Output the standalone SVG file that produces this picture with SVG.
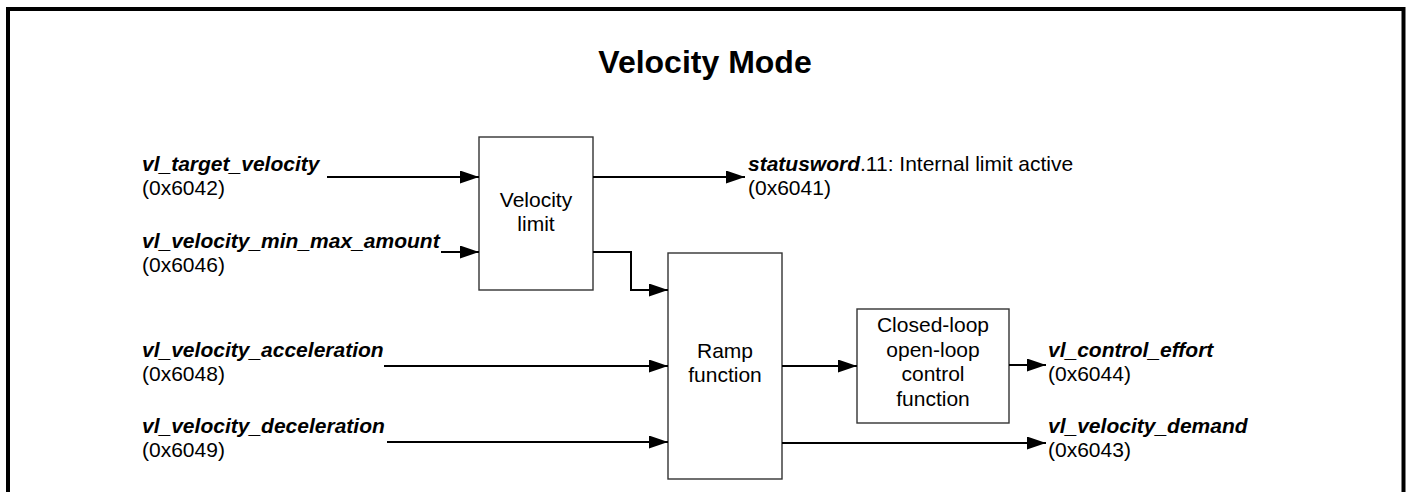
<svg xmlns="http://www.w3.org/2000/svg" width="1412" height="492" viewBox="0 0 1412 492">
<style>
text{font-family:"Liberation Sans",Arial,sans-serif;font-size:21px;fill:#000}
.t{font-size:32px;font-weight:bold}
.bi{font-weight:bold;font-style:italic}
.c{text-anchor:middle}
.box{fill:#fff;stroke:#333;stroke-width:1.4}
.ln{fill:none;stroke:#000;stroke-width:2}
</style>
<defs>
<marker id="ah" markerUnits="userSpaceOnUse" markerWidth="20" markerHeight="14" refX="19" refY="6.5" orient="auto">
<path d="M0,0 L19,6.5 L0,13 z" fill="#000"/>
</marker>
</defs>
<rect width="1412" height="492" fill="#fff"/>
<path d="M8,500 V9 H1403.5 V500" fill="none" stroke="#000" stroke-width="4"/>
<text class="t c" x="705" y="73">Velocity Mode</text>

<g id="in-target"><text class="bi" x="142" y="171">vl_target_velocity</text><text x="142" y="195">(0x6042)</text></g>
<g id="in-minmax"><text class="bi" x="142" y="248">vl_velocity_min_max_amount</text><text x="142" y="272">(0x6046)</text></g>
<g id="in-acc"><text class="bi" x="142" y="357">vl_velocity_acceleration</text><text x="142" y="381">(0x6048)</text></g>
<g id="in-dec"><text class="bi" x="142" y="433">vl_velocity_deceleration</text><text x="142" y="457">(0x6049)</text></g>

<g id="velocity-limit"><rect class="box" x="479" y="137" width="114" height="153"/><text class="c" x="536" y="207">Velocity</text><text class="c" x="536" y="231">limit</text></g>
<g id="ramp"><rect class="box" x="668" y="253" width="114" height="226"/><text class="c" x="725" y="358">Ramp</text><text class="c" x="725" y="382">function</text></g>
<g id="control"><rect class="box" x="857" y="309" width="152" height="114"/><text class="c" x="933" y="332">Closed-loop</text><text class="c" x="933" y="356.5">open-loop</text><text class="c" x="933" y="381">control</text><text class="c" x="933" y="405.5">function</text></g>

<g id="out-status"><text x="748" y="171"><tspan class="bi">statusword</tspan>.11: Internal limit active</text><text x="748" y="195">(0x6041)</text></g>
<g id="out-effort"><text class="bi" x="1048" y="357">vl_control_effort</text><text x="1048" y="381">(0x6044)</text></g>
<g id="out-demand"><text class="bi" x="1048" y="433">vl_velocity_demand</text><text x="1048" y="457">(0x6043)</text></g>

<g id="connectors">
<path class="ln" d="M327,177 H479" marker-end="url(#ah)"/>
<path class="ln" d="M441,252 H479" marker-end="url(#ah)"/>
<path class="ln" d="M593,177 H745" marker-end="url(#ah)"/>
<path class="ln" d="M593,252 H631 V290 H668" marker-end="url(#ah)"/>
<path class="ln" d="M384,366 H668" marker-end="url(#ah)"/>
<path class="ln" d="M387,442 H668" marker-end="url(#ah)"/>
<path class="ln" d="M782,366 H857" marker-end="url(#ah)"/>
<path class="ln" d="M1009,365 H1046" marker-end="url(#ah)"/>
<path class="ln" d="M782,443 H1046" marker-end="url(#ah)"/>
</g>
</svg>
